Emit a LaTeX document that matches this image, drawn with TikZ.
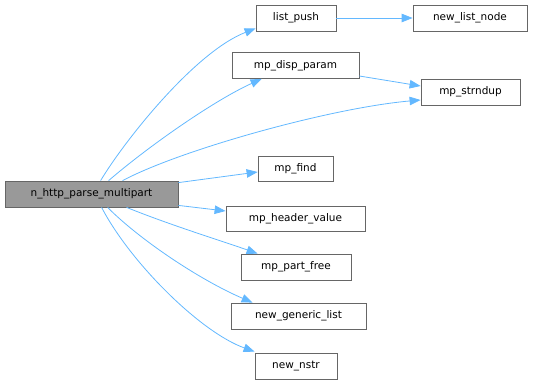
\documentclass[tikz,border=0pt]{standalone}
\usepackage{fontspec}
\setmainfont{DejaVu Sans}
\usetikzlibrary{arrows.meta}
\definecolor{edgeblue}{HTML}{63B8FF}
\definecolor{boxborder}{HTML}{666666}
\definecolor{mainfill}{HTML}{999999}
\begin{document}
\begin{tikzpicture}[x=1pt,y=-1pt,
  fn/.style={draw=boxborder,fill=white,line width=0.8pt,minimum height=26pt,inner sep=0pt,
    font=\fontsize{10.5}{12}\selectfont,text=black},
  mainfn/.style={fn,fill=mainfill},
  call/.style={draw=edgeblue,line width=0.8pt,-{Triangle[length=11pt,width=8.5pt]}}]
\useasboundingbox (0,0) rectangle (533,384);
\node[mainfn,minimum width=173pt] (main) at (91.5,194) {n\_http\_parse\_multipart};
\node[fn,minimum width=80pt] (lp) at (296,18) {list\_push};
\node[fn,minimum width=114pt] (nln) at (470,18) {new\_list\_node};
\node[fn,minimum width=127pt] (mdp) at (295.5,65.5) {mp\_disp\_param};
\node[fn,minimum width=99pt] (msd) at (470.5,92) {mp\_strndup};
\node[fn,minimum width=75pt,minimum height=25pt] (mf) at (295.5,168.5) {mp\_find};
\node[fn,minimum width=139pt,minimum height=25pt] (mhv) at (295.5,218.5) {mp\_header\_value};
\node[fn,minimum width=110pt] (mpf) at (296,267) {mp\_part\_free};
\node[fn,minimum width=135pt] (ngl) at (298.5,316) {new\_generic\_list};
\node[fn,minimum width=82pt] (nns) at (296,366) {new\_nstr};
% edges
\draw[call] ([xshift=96pt]main.north west) .. controls (125,140) and (195,52) .. ([yshift=3pt]lp.south west);
\draw[call] ([xshift=104pt]main.north west) .. controls (150,145) and (215,100) .. ([xshift=30pt]mdp.south west);
\draw[call] ([xshift=118pt]main.north west) .. controls (180,150) and (330,108) .. ([yshift=-8pt]msd.west);
\draw[call] ([yshift=-2pt]main.north east) -- ([yshift=-3.5pt]mf.west);
\draw[call] ([yshift=2pt]main.south east) -- ([yshift=7.5pt]mhv.west);
\draw[call] ([xshift=122pt]main.south west) .. controls (170,225) and (225,242) .. ([xshift=17pt]mpf.north west);
\draw[call] ([xshift=103pt]main.south west) .. controls (140,240) and (200,280) .. ([xshift=22pt]ngl.north west);
\draw[call] ([xshift=97pt]main.south west) .. controls (130,262) and (200,332) .. ([yshift=1pt]nns.north west);
\draw[call] ([yshift=-10.5pt]mdp.east) -- ([yshift=6pt]msd.west);
\draw[call] (lp) -- (nln);
\end{tikzpicture}
\end{document}
